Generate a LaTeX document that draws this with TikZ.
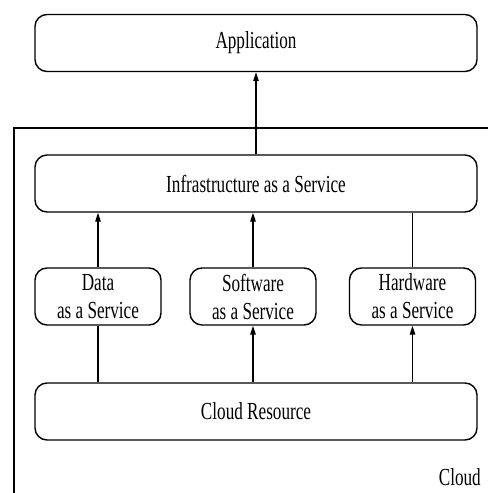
\documentclass[tikz,border=0pt]{standalone}
\usepackage{fontspec}
\newfontfamily\cf[FakeStretch=0.7]{Liberation Serif}
\usetikzlibrary{arrows.meta}
\tikzset{
  txt/.style={font=\cf\fontsize{24.5}{28}\selectfont},
  box/.style={draw, line width=1.4pt, rounded corners=12pt, minimum height=57pt, inner sep=0pt, align=center, txt},
  wide/.style={box, minimum width=442pt},
  small/.style={box, minimum width=126pt},
  conn/.style={line width=1.4pt},
  arr/.style={conn, -{Triangle[length=9pt,width=5.5pt]}},
}
\begin{document}
\begin{tikzpicture}[x=1pt,y=-1pt]
\useasboundingbox (0,0) rectangle (488,493);
\node[wide] (app) at (256,43) {Application};
\node[wide] (iaas) at (256,183.5) {Infrastructure as a Service};
\node[small] (daas) at (98,296.5) {Data\\as a Service};
\node[small] (saas) at (253,296.5) {Software\\as a Service};
\node[small] (haas) at (412.5,296.5) {Hardware\\as a Service};
\node[wide] (cr) at (256,411.5) {Cloud Resource};
\node[txt, anchor=east, inner sep=0pt] (cl) at (481,477) {Cloud};
\coordinate (ftl) at (14,128);
\coordinate (fbl) at (14,493);
\coordinate (ftr) at (488,128);
\draw[conn] (fbl) -- (ftl) -- (ftr);
\draw[arr] (iaas.north) -- (app.south);
\draw[arr] (daas.north) -- (daas.north |- iaas.south);
\draw[arr] (saas.north) -- (saas.north |- iaas.south);
\draw[conn] (haas.north) -- (haas.north |- iaas.south);
\draw[conn] (daas.south |- cr.north) -- (daas.south);
\draw[arr] (saas.south |- cr.north) -- (saas.south);
\draw[arr] (haas.south |- cr.north) -- (haas.south);
\end{tikzpicture}
\end{document}
